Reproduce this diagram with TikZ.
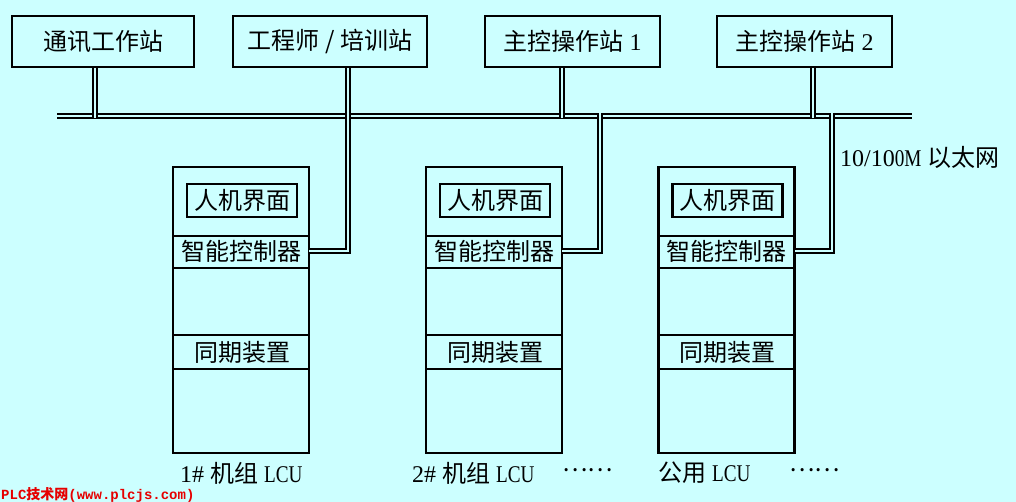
\documentclass[tikz,border=0pt]{standalone}
\usepackage{fontspec}
\setmainfont{Liberation Serif}
\newfontfamily\cjk{Noto Sans CJK SC}
\newfontfamily\narrow[FakeStretch=0.8]{Liberation Serif}
\newfontfamily\wmmono{Liberation Mono}
\definecolor{bg}{RGB}{204,255,255}
\definecolor{wmred}{RGB}{230,0,0}
\newcommand\bigtxt{\fontsize{24pt}{28pt}\selectfont}
\begin{document}
\begin{tikzpicture}[x=1pt,y=-1pt,
  box/.style={draw=black,line width=2.2pt,minimum height=51pt,inner sep=0pt,font=\bigtxt},
  net/.style={draw=black,line width=2.4pt,double=bg,double distance=1.8pt,line join=miter},
  cab/.style={draw=black,line width=2.8pt,inner sep=0pt,minimum width=136pt,minimum height=286pt},
  hmi/.style={draw=black,line width=2.2pt,inner sep=0pt,minimum width=110pt,minimum height=33pt,font=\bigtxt},
  part/.style={inner sep=0pt,minimum width=136pt,minimum height=32pt,font=\bigtxt},
  divl/.style={draw=black,line width=2.2pt},
  lbl/.style={inner sep=0pt,font=\bigtxt}]
\fill[bg] (0,0) rectangle (1016,502);
\useasboundingbox (0,0) rectangle (1016,502);

% top stations
\node[box,minimum width=182pt] (b1) at (103,41.5) {\cjk 通讯工作站};
\node[box,minimum width=194pt] (b2) at (330,41.5) {\cjk 工程师 / 培训站};
\node[box,minimum width=175pt] (b3) at (572.5,41.5) {{\cjk 主控操作站} 1};
\node[box,minimum width=175pt] (b4) at (804.5,41.5) {{\cjk 主控操作站} 2};

% bus
\coordinate (busL) at (57,116);
\coordinate (busR) at (912,116);
\draw[net] (busL) -- (busR);

% stubs from stations to bus
\coordinate (s1) at (95,118);
\coordinate (s2) at (348,118);
\coordinate (s3) at (562,118);
\coordinate (s4) at (813,118);
\draw[net] ([xshift=-8pt]b1.south) -- (s1);
\draw[net] ([xshift=18pt]b2.south) -- (s2);
\draw[net] ([xshift=-10.5pt]b3.south) -- (s3);
\draw[net] ([xshift=8.5pt]b4.south) -- (s4);

% cabinets
\foreach \n/\cx in {c1/241,c2/494,c3/726.5}{
  \node[cab] (\n) at (\cx,310) {};
  \node[hmi] (\n-hmi) at (\cx+1,200.5) {\cjk 人机界面};
  \draw[divl] (\cx-68,236) -- (\cx+68,236);
  \node[part] (\n-ctl) at (\cx,251) {\cjk 智能控制器};
  \draw[divl] (\cx-68,268) -- (\cx+68,268);
  \draw[divl] (\cx-68,335) -- (\cx+68,335);
  \node[part] (\n-syn) at (\cx+1,352) {\cjk 同期装置};
  \draw[divl] (\cx-68,369) -- (\cx+68,369);
}

% drops from bus to cabinets
\coordinate (d1) at (348,113);
\coordinate (d2) at (600,113);
\coordinate (d3) at (832,113);
\draw[net] (d1) |- (c1-ctl.east);
\draw[net] (d2) |- (c2-ctl.east);
\draw[net] (d3) |- (c3-ctl.east);

% network label
\node[lbl,anchor=west] (eth) at (840,157) {10/10{\narrow 0M} {\cjk 以太网}};

% bottom labels
\node[lbl,anchor=west] (l1) at (180,473) {1\# {\cjk 机组} {\narrow LCU}};
\node[lbl,anchor=west] (l2) at (412,473) {2\# {\cjk 机组} {\narrow LCU}};
\node[lbl,anchor=west] (dots1) at (562,470) {\cjk ……};
\node[lbl,anchor=west] (l3) at (658,473) {{\cjk 公用} {\narrow LCU}};
\node[lbl,anchor=west] (dots2) at (789,470) {\cjk ……};

% watermark
\node[inner sep=0pt,anchor=west,text=wmred,font=\fontsize{14pt}{15pt}\selectfont\bfseries] (wm) at (1,494.5)
  {\wmmono PLC{\cjk 技术网}(www.plcjs.com)};
\end{tikzpicture}
\end{document}
